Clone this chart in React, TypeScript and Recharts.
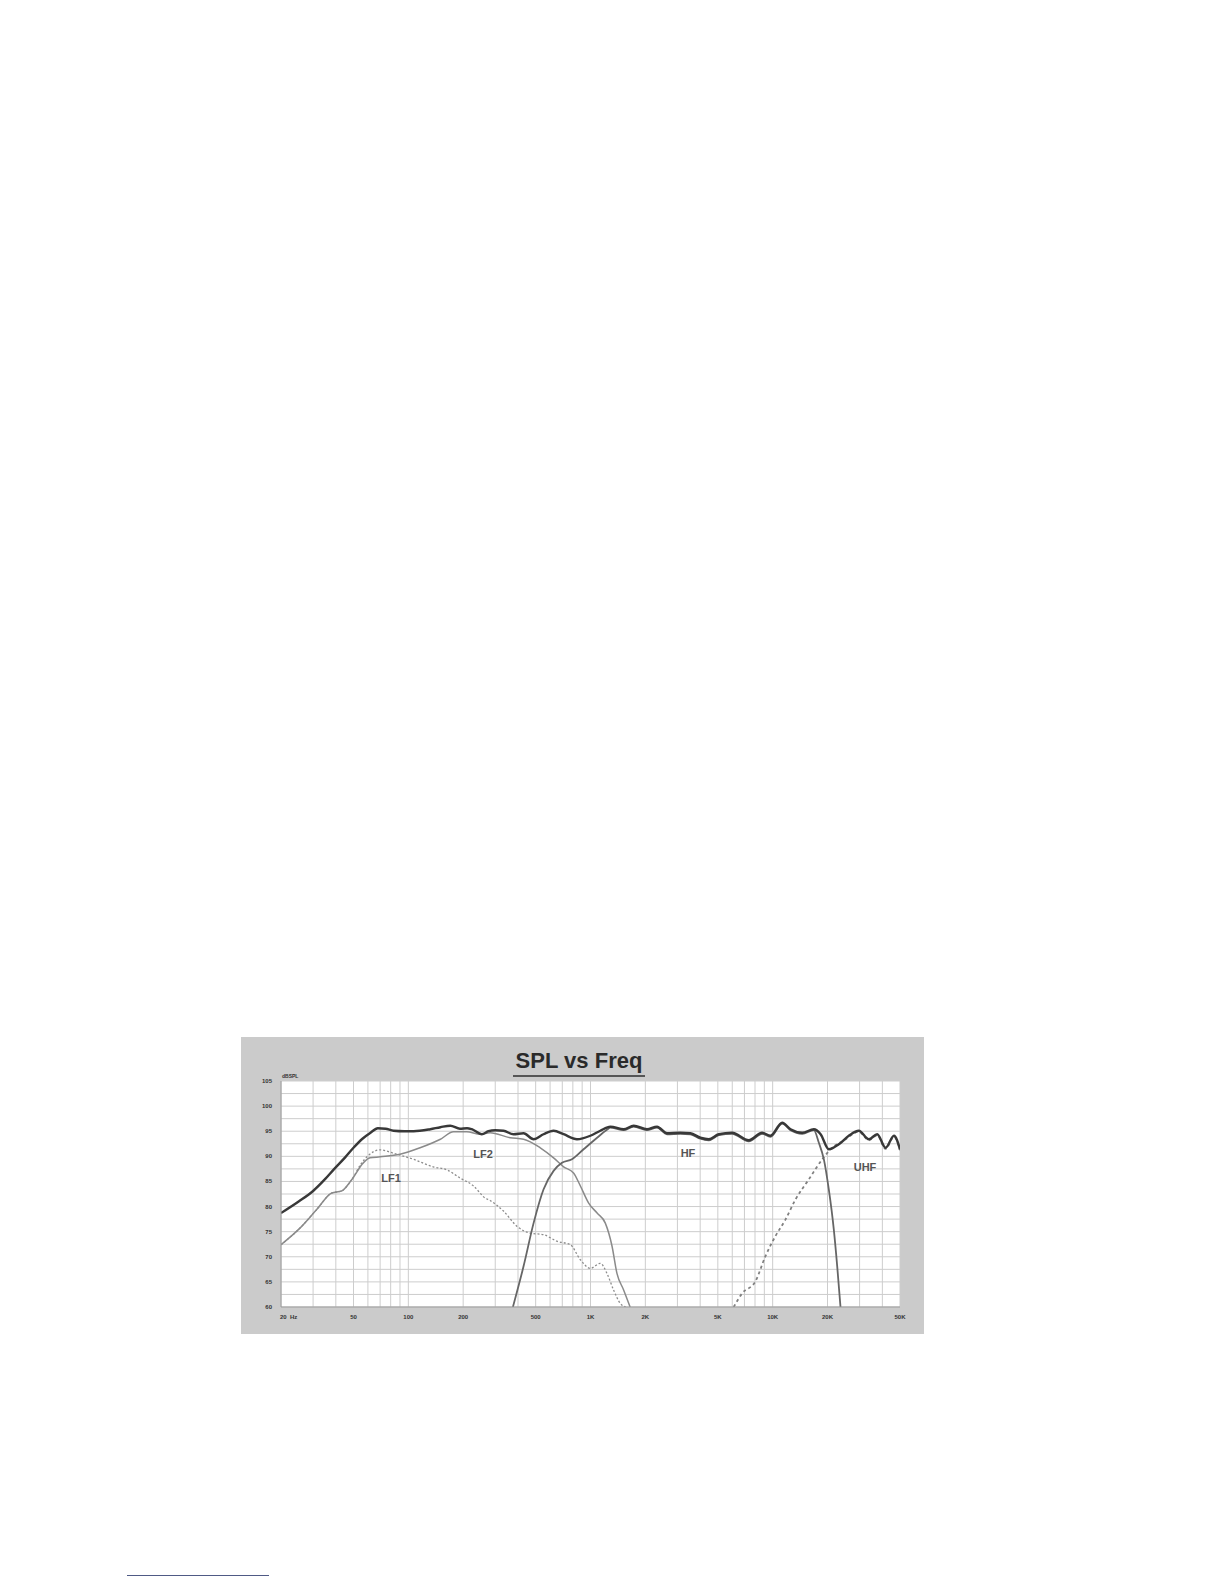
import { CartesianGrid, Line, LineChart, XAxis, YAxis } from "recharts";

// frequency gridlines (log grid) and the labelled ones
const xGridTicks = [
    20, 30, 40, 50, 60, 70, 80, 90, 100, 200, 300, 400, 500, 600, 700, 800, 900,
    1000, 2000, 3000, 4000, 5000, 6000, 7000, 8000, 9000, 10000, 20000, 30000,
    40000, 50000,
];
const xTickLabels: Record<number, string> = {
    20: "20  Hz",
    50: "50",
    100: "100",
    200: "200",
    500: "500",
    1000: "1K",
    2000: "2K",
    5000: "5K",
    10000: "10K",
    20000: "20K",
    50000: "50K",
};
const yGridTicks = [
    60, 62.5, 65, 67.5, 70, 72.5, 75, 77.5, 80, 82.5, 85, 87.5, 90, 92.5, 95,
    97.5, 100, 102.5, 105,
];
const yTickLabels = [60, 65, 70, 75, 80, 85, 90, 95, 100, 105];

// [Hz, dBSPL]
const totalResponse: Array<[number, number]> = [
    [20, 78.7], [25, 81], [30, 83.1], [35, 85.5], [39, 87.4], [45, 89.8],
    [50, 91.7], [56, 93.5], [62, 94.7], [68, 95.6], [75, 95.5], [83, 95.1],
    [95, 95], [107, 95], [132, 95.4], [150, 95.8], [170, 96.1], [192, 95.5],
    [210, 95.6], [223, 95.4], [253, 94.4], [275, 95], [300, 95.2], [333, 95.1],
    [378, 94.4], [429, 94.6], [487, 93.4], [552, 94.4], [627, 95.1], [712, 94.4],
    [843, 93.4], [998, 94.1], [1132, 95.1], [1285, 95.9], [1520, 95.4],
    [1726, 96.1], [2042, 95.4], [2318, 95.9], [2630, 94.6], [3114, 94.7],
    [3535, 94.6], [4011, 93.7], [4459, 93.4], [5060, 94.4], [5989, 94.7],
    [7393, 93.2], [8751, 94.7], [9723, 94.1], [11280, 96.7], [12530, 95.4],
    [14530, 94.7], [16830, 95.4], [18330, 94.4], [20330, 91.4], [23070, 92.4],
    [26180, 94.1], [29720, 95.1], [33730, 93.4], [37490, 94.4], [41680, 91.7],
    [46330, 94.1], [50000, 91.4],
];

const lf1Response: Array<[number, number]> = [
    [20, 72.4], [25.4, 75.7], [31.4, 79.4], [38, 82.7], [43, 83.1], [49, 85.4],
    [55, 88.5], [60, 90.1], [70, 91.3], [83, 90.6], [107, 89.4], [137, 87.9],
    [163, 87.3], [192, 85.7], [228, 84.1], [264, 81.7], [281, 81.2], [333, 79.1],
    [394, 76.1], [467, 74.7], [552, 74.4], [654, 73.1], [775, 72.4], [880, 69.4],
    [998, 67.7], [1132, 68.7], [1231, 66.7], [1338, 63.4], [1458, 60.7],
    [1560, 60],
];

const lf2Response: Array<[number, number]> = [
    [20, 72.4], [25.4, 75.7], [31.4, 79.4], [38, 82.7], [43, 83.1], [49, 85.4],
    [56.6, 88.7], [61.6, 89.7], [70, 89.9], [90, 90.4], [116, 91.7], [150, 93.4],
    [177, 94.9], [209, 94.9], [248, 94.4], [281, 94.7], [362, 93.7], [429, 93.4],
    [530, 91.7], [627, 89.7], [712, 87.9], [807, 86.7], [880, 84.1], [977, 80.7],
    [1087, 78.7], [1206, 76.7], [1313, 72.1], [1397, 66.7], [1520, 63.4],
    [1650, 60],
];

const hfResponse: Array<[number, number]> = [
    [375, 60], [429, 68.1], [487, 76.7], [552, 83.4], [627, 87.1], [697, 88.7],
    [791, 89.4], [916, 91.4], [1087, 93.7], [1231, 95.3], [1285, 95.7],
    [1520, 95.2], [1726, 95.9], [2042, 95.2], [2318, 95.7], [2630, 94.4],
    [3114, 94.5], [3535, 94.4], [4011, 93.5], [4459, 93.2], [5060, 94.2],
    [5989, 94.5], [7393, 93], [8751, 94.5], [9723, 93.9], [11280, 96.5],
    [12530, 95.2], [14530, 94.5], [16830, 95.2], [17930, 92.7], [19100, 89.4],
    [20330, 83.4], [21660, 75.4], [22610, 68.1], [23570, 60],
];

const uhfResponse: Array<[number, number]> = [
    [6110, 60], [6790, 62.7], [8040, 65.1], [9120, 70.1], [10350, 74.1],
    [11750, 77.4], [13340, 81.4], [15790, 85.4], [18700, 89.4], [21220, 91.7],
    [25120, 93.4], [26180, 93.9], [29720, 94.9], [33730, 93.2], [37490, 94.2],
    [41680, 91.5], [46330, 93.9], [50000, 91.2],
];

const seriesLabels = [
    { text: "LF1", left: 150, top: 141 },
    { text: "LF2", left: 242, top: 117 },
    { text: "HF", left: 447, top: 116 },
    { text: "UHF", left: 624, top: 130 },
];

const FONT = "'Liberation Sans', Arial, sans-serif";

const toPoints = (rows: Array<[number, number]>) =>
    rows.map(([freq, spl]) => ({ freq, spl }));

function FreqTick({ x, y, payload }: any) {
    const label = xTickLabels[payload.value];
    if (!label) return null;
    const isFirst = payload.value === 20;
    return (
        <text
            x={isFirst ? x - 1 : x}
            y={y + 4}
            textAnchor={isFirst ? "start" : "middle"}
            fontSize={6}
            fontWeight="bold"
            fill="#333"
            fontFamily={FONT}
            style={{ whiteSpace: "pre" }}
        >
            {label}
        </text>
    );
}

function SplTick({ x, y, payload }: any) {
    if (!yTickLabels.includes(payload.value)) return null;
    return (
        <text
            x={x - 1}
            y={y + 2}
            textAnchor="end"
            fontSize={6}
            fontWeight="bold"
            fill="#333"
            fontFamily={FONT}
        >
            {payload.value}
        </text>
    );
}

export default function App() {
    return (
        <div style={{ position: "relative", width: 1208, height: 1576 }}>
            <div
                style={{
                    position: "absolute",
                    left: 233,
                    top: 1029,
                    width: 683,
                    height: 297,
                    background: "#cbcbcb",
                    fontFamily: FONT,
                }}
            >
                <LineChart
                    width={683}
                    height={297}
                    margin={{ top: 44, right: 24, bottom: 7, left: 10 }}
                >
                    <CartesianGrid
                        fill="#ffffff"
                        stroke="#cdcdcd"
                        strokeWidth={1}
                        verticalValues={xGridTicks}
                        horizontalValues={yGridTicks}
                    />
                    <XAxis
                        dataKey="freq"
                        type="number"
                        scale="log"
                        domain={[20, 50000]}
                        allowDataOverflow
                        ticks={xGridTicks}
                        interval={0}
                        tick={<FreqTick />}
                        tickLine={false}
                        axisLine={{ stroke: "#9a9a9a" }}
                        height={20}
                    />
                    <YAxis
                        type="number"
                        domain={[60, 105]}
                        allowDataOverflow
                        ticks={yGridTicks}
                        interval={0}
                        tick={<SplTick />}
                        tickLine={false}
                        axisLine={{ stroke: "#9a9a9a" }}
                        width={30}
                    />
                    <Line
                        data={toPoints(lf1Response)}
                        dataKey="spl"
                        type="monotone"
                        stroke="#8c8c8c"
                        strokeWidth={1.3}
                        strokeDasharray="2 2"
                        dot={false}
                        isAnimationActive={false}
                    />
                    <Line
                        data={toPoints(lf2Response)}
                        dataKey="spl"
                        type="monotone"
                        stroke="#8a8a8a"
                        strokeWidth={1.5}
                        dot={false}
                        isAnimationActive={false}
                    />
                    <Line
                        data={toPoints(uhfResponse)}
                        dataKey="spl"
                        type="monotone"
                        stroke="#808080"
                        strokeWidth={1.8}
                        strokeDasharray="3 3"
                        dot={false}
                        isAnimationActive={false}
                    />
                    <Line
                        data={toPoints(hfResponse)}
                        dataKey="spl"
                        type="monotone"
                        stroke="#666666"
                        strokeWidth={1.8}
                        dot={false}
                        isAnimationActive={false}
                    />
                    <Line
                        data={toPoints(totalResponse)}
                        dataKey="spl"
                        type="monotone"
                        stroke="#383838"
                        strokeWidth={2.4}
                        dot={false}
                        isAnimationActive={false}
                    />
                </LineChart>

                {/* title */}
                <div
                    style={{
                        position: "absolute",
                        left: 272,
                        top: 12,
                        width: 132,
                        textAlign: "center",
                        fontSize: 22,
                        fontWeight: "bold",
                        color: "#2a2a2a",
                        lineHeight: "24px",
                        borderBottom: "2px solid #555",
                        paddingBottom: 2,
                    }}
                >
                    SPL vs Freq
                </div>
                <div
                    style={{
                        position: "absolute",
                        left: 41,
                        top: 36,
                        fontSize: 5,
                        fontWeight: "bold",
                        color: "#333",
                    }}
                >
                    dBSPL
                </div>
                {seriesLabels.map((l) => (
                    <div
                        key={l.text}
                        style={{
                            position: "absolute",
                            left: l.left,
                            top: l.top,
                            transform: "translate(-50%, -50%)",
                            fontSize: 11,
                            fontWeight: "bold",
                            color: "#555",
                        }}
                    >
                        {l.text}
                    </div>
                ))}
            </div>
            <div
                style={{
                    position: "absolute",
                    left: 119,
                    top: 1567,
                    width: 142,
                    height: 1,
                    background: "#4f5a85",
                }}
            />
        </div>
    );
}
